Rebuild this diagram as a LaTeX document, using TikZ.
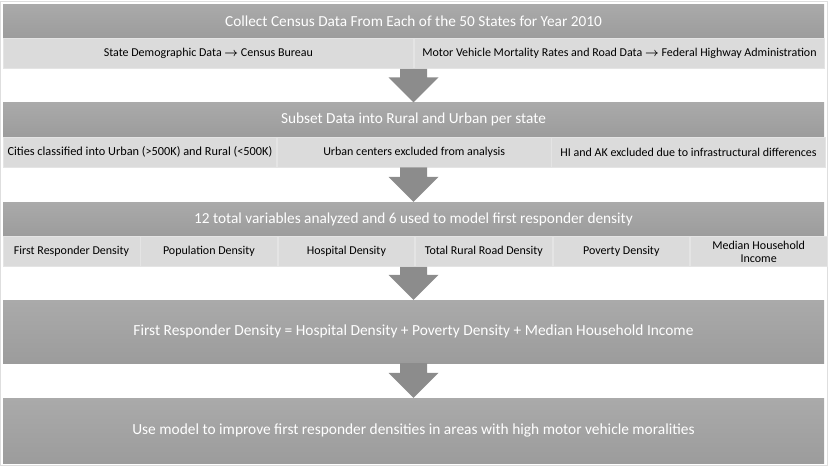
\documentclass[tikz,border=0pt]{standalone}
\usepackage{fontspec}
\setmainfont{Carlito}
\usetikzlibrary{positioning,calc}
\definecolor{bandtop}{RGB}{170,170,170}
\definecolor{bandbot}{RGB}{156,156,156}
\definecolor{cellgray}{RGB}{219,219,219}
\definecolor{cellline}{RGB}{228,228,228}
\definecolor{arrowgray}{RGB}{140,140,140}
\definecolor{framegray}{RGB}{222,222,222}
\tikzset{
  band/.style={top color=bandtop, bottom color=bandbot, text=white, minimum width=821pt,
    inner sep=0pt, align=center},
  head/.style={band, minimum height=34pt, font=\fontsize{15.3}{17}\selectfont},
  cell/.style={fill=cellgray, draw=cellline, line width=0.6pt, minimum height=30pt,
    inner sep=0pt, align=center, font=\fontsize{12}{13}\selectfont},
}
% block arrow from the bottom of one row to the top of the next band
\newcommand{\flowarrow}[2]{%
  \fill[arrowgray] ($(#1.south -| #2.north)+(-13.5,0)$) -- ($(#1.south -| #2.north)+(13.5,0)$)
    -- ($(#2.north)+(13.5,-25)$) -- ($(#2.north)+(25,-25)$) -- (#2.north)
    -- ($(#2.north)+(-25,-25)$) -- ($(#2.north)+(-13.5,-25)$) -- cycle;}
\begin{document}
\begin{tikzpicture}[x=1pt,y=-1pt]
\useasboundingbox (0,0) rectangle (829,467);
\draw[framegray, line width=1pt] (0.5,1) rectangle (827,465.5);
% step 1
\node[head] (h1) at (413.5,21) {Collect Census Data From Each of the 50 States for Year 2010};
\node[cell, minimum width=410.5pt, anchor=north west] (c1a) at (h1.south west) {State Demographic Data {\boldmath$\rightarrow$} Census Bureau};
\node[cell, minimum width=410.5pt, right=0pt of c1a] (c1b) {Motor Vehicle Mortality Rates and Road Data {\boldmath$\rightarrow$} Federal Highway Administration};
% step 2
\node[head] (h2) at (413.5,119.5) {Subset Data into Rural and Urban per state};
\node[cell, minimum width=273.67pt, anchor=north west, font=\fontsize{12.3}{13}\selectfont] (c2a) at (h2.south west) {Cities classified into Urban (>500K) and Rural (<500K)};
\node[cell, minimum width=273.67pt, right=0pt of c2a] (c2b) {Urban centers excluded from analysis};
\node[cell, minimum width=273.67pt, right=0pt of c2b] (c2c) {HI and AK excluded due to infrastructural differences};
% step 3
\node[head] (h3) at (413.5,219) {12 total variables analyzed and 6 used to model first responder density};
\node[cell, minimum width=136.83pt, anchor=north west] (c3a) at (h3.south west) {First Responder Density};
\node[cell, minimum width=136.83pt, right=0pt of c3a] (c3b) {Population Density};
\node[cell, minimum width=136.83pt, right=0pt of c3b] (c3c) {Hospital Density};
\node[cell, minimum width=136.83pt, right=0pt of c3c] (c3d) {Total Rural Road Density};
\node[cell, minimum width=136.83pt, right=0pt of c3d] (c3e) {Poverty Density};
\node[cell, minimum width=136.83pt, right=0pt of c3e] (c3f) {Median Household\\Income};
% step 4 and 5
\node[band, minimum height=63pt, font=\fontsize{15.4}{17}\selectfont] (h4) at (413.5,331.5) {First Responder Density = Hospital Density + Poverty Density + Median Household Income};
\node[band, minimum height=65pt, font=\fontsize{15.4}{17}\selectfont] (h5) at (413.5,430.5) {Use model to improve first responder densities in areas with high motor vehicle moralities};
\flowarrow{c1a}{h2}
\flowarrow{c2a}{h3}
\flowarrow{c3a}{h4}
\flowarrow{h4}{h5}
\end{tikzpicture}
\end{document}
